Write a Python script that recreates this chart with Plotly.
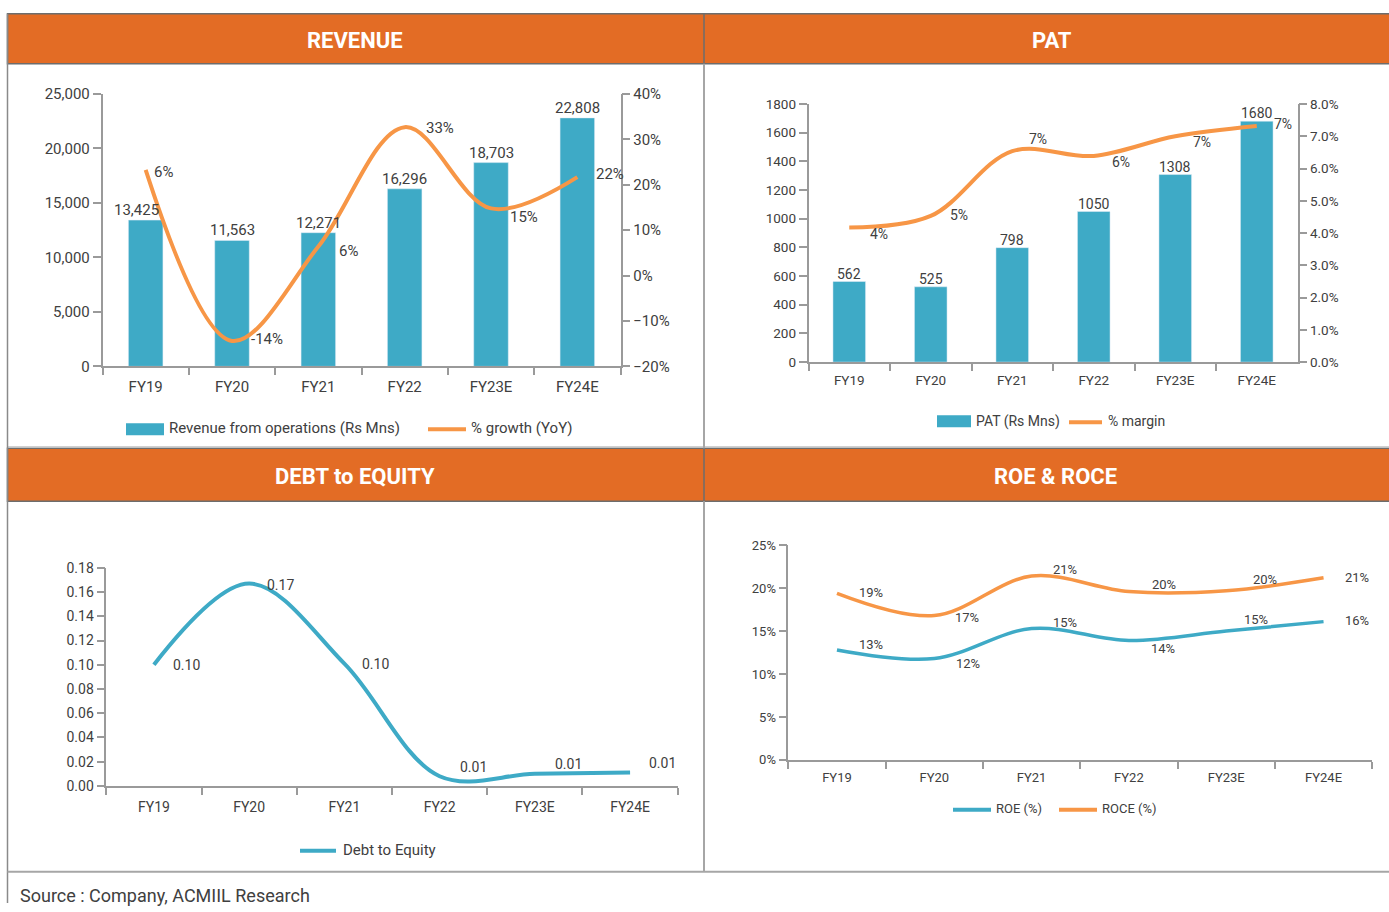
import plotly.graph_objects as go

W, H = 1389, 912

# ---------------- data ----------------
years = ["FY19", "FY20", "FY21", "FY22", "FY23E", "FY24E"]

revenue = [13425, 11563, 12271, 16296, 18703, 22808]
revenue_growth = [23.3, -14.4, 6.4, 32.7, 14.8, 21.7]
revenue_growth_labels = ["6%", "-14%", "6%", "33%", "15%", "22%"]

pat = [562, 525, 798, 1050, 1308, 1680]
pat_margin = [4.17, 4.53, 6.54, 6.39, 7.0, 7.32]

debt_equity = [0.100, 0.167, 0.101, 0.008, 0.010, 0.011]

roe = [12.8, 11.8, 15.3, 13.9, 15.0, 16.1]
roce = [19.4, 16.8, 21.4, 19.6, 19.7, 21.2]

# ---------------- style ----------------
TEAL = "#3EAAC6"
ORANGE = "#F79646"
HEADER = "#E36C25"
TXT = "#404040"
AXC = "#9a9a9a"
FONT = "Roboto"
HFONT = "Roboto"

# the rendered page places the figure slightly lower and shorter than its nominal size;
# these two numbers map target pixel rows to paper coordinates
Y_OFF, Y_SCALE = 8.2, 0.9814


def px(x):
    return x / W


def py(y):
    return 1 - ((y - Y_OFF) / Y_SCALE) / H


fig = go.Figure()

# Revenue
fig.add_trace(go.Bar(x=years, y=revenue, xaxis="x", yaxis="y", marker_color=TEAL, width=0.4,
                     name="Revenue from operations (Rs Mns)", showlegend=False))
fig.add_trace(go.Scatter(x=years, y=revenue_growth, xaxis="x", yaxis="y2", mode="lines",
                         line=dict(color=ORANGE, width=4, shape="spline", smoothing=1.0),
                         name="% growth (YoY)", showlegend=False))
# PAT
fig.add_trace(go.Bar(x=years, y=pat, xaxis="x2", yaxis="y3", marker_color=TEAL, width=0.4,
                     name="PAT (Rs Mns)", showlegend=False))
fig.add_trace(go.Scatter(x=years, y=pat_margin, xaxis="x2", yaxis="y4", mode="lines",
                         line=dict(color=ORANGE, width=4, shape="spline", smoothing=1.0),
                         name="% margin", showlegend=False))
# Debt to equity
fig.add_trace(go.Scatter(x=years, y=debt_equity, xaxis="x3", yaxis="y5", mode="lines",
                         line=dict(color=TEAL, width=4, shape="spline", smoothing=1.0),
                         name="Debt to Equity", showlegend=False))
# ROE / ROCE
fig.add_trace(go.Scatter(x=years, y=roe, xaxis="x4", yaxis="y6", mode="lines",
                         line=dict(color=TEAL, width=3.5, shape="spline", smoothing=1.0),
                         name="ROE (%)", showlegend=False))
fig.add_trace(go.Scatter(x=years, y=roce, xaxis="x4", yaxis="y6", mode="lines",
                         line=dict(color=ORANGE, width=3.5, shape="spline", smoothing=1.0),
                         name="ROCE (%)", showlegend=False))


def xax(d0, d1, anchor, size, standoff=4):
    return dict(domain=[px(d0), px(d1)], anchor=anchor, type="category", range=[-0.5, 5.5],
                showline=True, linecolor=AXC, linewidth=1.5, ticks="outside", tickson="boundaries",
                ticklen=7, tickcolor=AXC, tickwidth=1.5, showgrid=False, zeroline=False,
                ticklabelstandoff=standoff,
                tickfont=dict(family=FONT, size=size, color=TXT), fixedrange=True)


def yax(top, bot, anchor, rng, dtick, size, side="left", overlaying=None, fmt=None, suffix=""):
    d = dict(domain=[py(bot), py(top)], anchor=anchor, range=rng, dtick=dtick, side=side,
             showline=True, linecolor=AXC, linewidth=1.5, ticks="outside", ticklen=8,
             tickcolor=AXC, tickwidth=1.5, showgrid=False, zeroline=False,
             tickfont=dict(family=FONT, size=size, color=TXT), ticksuffix=suffix, fixedrange=True)
    if overlaying:
        d["overlaying"] = overlaying
    if fmt:
        d["tickformat"] = fmt
    return d


layout = dict(
    width=W, height=H, autosize=False, margin=dict(l=0, r=0, t=0, b=0),
    paper_bgcolor="white", plot_bgcolor="rgba(0,0,0,0)", showlegend=False,
    xaxis=xax(102.5, 620.5, "y", 15, 6),
    yaxis=yax(93.3, 366, "x", [0, 25000], 5000, 15, fmt=","),
    yaxis2=yax(93.3, 366, "x", [-20, 40], 10, 15, side="right", overlaying="y", suffix="%"),
    xaxis2=xax(808.5, 1297.5, "y3", 13.5, 5),
    yaxis3=yax(103.3, 361.7, "x2", [0, 1800], 200, 13.5),
    yaxis4=yax(103.3, 361.7, "x2", [0, 8], 1, 13.5, side="right", overlaying="y3", fmt=".1f", suffix="%"),
    xaxis3=xax(106.3, 677.7, "y5", 14, 8),
    yaxis5=yax(567.7, 786, "x3", [0, 0.18], 0.02, 14, fmt=".2f"),
    xaxis4=xax(788.3, 1372.2, "y6", 13, 5),
    yaxis6=yax(545, 760, "x4", [0, 25], 5, 13, suffix="%"),
)
fig.update_layout(**layout)

shapes = []
annotations = []

# ---- panel frames and headers ----
line_gray = "#a6a6a6"
dark = "#6d6d6d"
shapes.append(dict(type="rect", xref="paper", yref="paper", x0=px(7.5), x1=px(1392), y0=py(63), y1=py(13),
                   fillcolor=HEADER, line=dict(color=dark, width=1.5)))
shapes.append(dict(type="rect", xref="paper", yref="paper", x0=px(7.5), x1=px(1392), y0=py(501), y1=py(448),
                   fillcolor=HEADER, line=dict(color=dark, width=1.5)))
shapes.append(dict(type="line", xref="paper", yref="paper", x0=px(7.5), x1=px(1389), y0=py(446.5), y1=py(446.5),
                   line=dict(color="#d0d0d0", width=1.5)))
# vertical divider
shapes.append(dict(type="line", xref="paper", yref="paper", x0=px(704), x1=px(704), y0=py(13), y1=py(63),
                   line=dict(color=dark, width=1.5)))
shapes.append(dict(type="line", xref="paper", yref="paper", x0=px(704), x1=px(704), y0=py(448), y1=py(501),
                   line=dict(color=dark, width=1.5)))
shapes.append(dict(type="line", xref="paper", yref="paper", x0=px(704), x1=px(704), y0=py(63), y1=py(448),
                   line=dict(color=line_gray, width=2)))
shapes.append(dict(type="line", xref="paper", yref="paper", x0=px(704), x1=px(704), y0=py(501), y1=py(872),
                   line=dict(color=line_gray, width=2)))
# left border
shapes.append(dict(type="line", xref="paper", yref="paper", x0=px(7.5), x1=px(7.5), y0=max(py(912), 0), y1=py(13),
                   line=dict(color="#8a8a8a", width=1.5)))
# bottom line
shapes.append(dict(type="line", xref="paper", yref="paper", x0=px(7.5), x1=px(1389), y0=py(872), y1=py(872),
                   line=dict(color=line_gray, width=2)))

for text, cx, cy in [("REVENUE", 355, 40), ("PAT", 1052, 40), ("DEBT to EQUITY", 355, 476), ("ROE &amp; ROCE", 1055, 476)]:
    annotations.append(dict(xref="paper", yref="paper", x=px(cx), y=py(cy), text=f"<b>{text}</b>",
                            showarrow=False, xanchor="center", yanchor="middle",
                            font=dict(family=HFONT, size=22, color="white")))

annotations.append(dict(xref="paper", yref="paper", x=px(18), y=py(896), text="Source : Company, ACMIIL Research",
                        showarrow=False, xanchor="left", yanchor="middle",
                        font=dict(family=FONT, size=18, color=TXT)))


# ---- legends ----
def legend_rect(x0, x1, y0, y1, color):
    shapes.append(dict(type="rect", xref="paper", yref="paper", x0=px(x0), x1=px(x1), y0=py(y1), y1=py(y0),
                       fillcolor=color, line=dict(width=0)))


def legend_line(x0, x1, y, color, w=4):
    shapes.append(dict(type="line", xref="paper", yref="paper", x0=px(x0), x1=px(x1), y0=py(y), y1=py(y),
                       line=dict(color=color, width=w)))


def legend_text(x, y, text, size):
    annotations.append(dict(xref="paper", yref="paper", x=px(x), y=py(y), text=text, showarrow=False,
                            xanchor="left", yanchor="middle", font=dict(family=FONT, size=size, color=TXT)))


legend_rect(126, 164, 423, 435, TEAL)
legend_text(167, 428, fig.data[0].name, 15)
legend_line(428, 466, 429, ORANGE)
legend_text(469, 428, fig.data[1].name, 15)

legend_rect(937, 971, 415, 427, TEAL)
legend_text(974, 421, fig.data[2].name, 14)
legend_line(1069, 1102, 422, ORANGE)
legend_text(1106, 421, fig.data[3].name, 14)

legend_line(300, 336, 851, TEAL)
legend_text(341, 850, fig.data[4].name, 15)

legend_line(953, 991, 810, TEAL)
legend_text(994, 809, fig.data[5].name, 13)
legend_line(1059, 1097, 810, ORANGE)
legend_text(1100, 809, fig.data[6].name, 13)


# ---- bar labels ----
def bar_labels(xref, yref, vals, texts, dxs, dy, size):
    for xv, v, t, dx in zip(years, vals, texts, dxs):
        annotations.append(dict(xref=xref, yref=yref, x=xv, y=v, text=t, showarrow=False,
                                xanchor="center", yanchor="middle", xshift=dx, yshift=dy,
                                font=dict(family=FONT, size=size, color=TXT)))


bar_labels("x", "y", revenue, [f"{v:,}" for v in revenue], [-9, 0, 0, 0, 0, 0], 10, 15)
bar_labels("x2", "y3", pat, [str(v) for v in pat], [0, 0, 0, 0, 0, 0], 8, 14)


# ---- line data labels ----
def point_labels(xref, yref, yvals, texts, gaps, dys, size):
    for xv, yv, t, g, dy in zip(years, yvals, texts, gaps, dys):
        annotations.append(dict(xref=xref, yref=yref, x=xv, y=yv, text=t, showarrow=False,
                                xanchor="left", yanchor="middle", xshift=g, yshift=-dy,
                                font=dict(family=FONT, size=size, color=TXT)))


point_labels("x", "y2", revenue_growth, revenue_growth_labels,
             [6, 17, 19, 19, 17, 17], [2, -2, 4, 1, 9, -3], 15)
point_labels("x2", "y4", pat_margin, [f"{v:.0f}%" for v in pat_margin],
             [19, 17, 15, 16, 16, 15], [6, -1, -12, 6, 6, -2], 14)
point_labels("x3", "y5", debt_equity, [f"{v:.2f}" for v in debt_equity],
             [17, 16, 16, 18, 18, 17], [0, 1, 0, -9, -10, -10], 14)
point_labels("x4", "y6", roce, [f"{v:.0f}%" for v in roce],
             [20, 19, 19, 21, 25, 19], [-1, 2, -7, -7, -11, 0], 13)
point_labels("x4", "y6", roe, [f"{v:.0f}%" for v in roe],
             [20, 20, 19, 20, 16, 19], [-5, 5, -6, 8, -12, -1], 13)

fig.update_layout(shapes=shapes, annotations=annotations)

fig.write_html("out.html", config={"displayModeBar": False, "responsive": False},
               post_script="document.body.style.margin='0';document.body.style.overflow='hidden';")
